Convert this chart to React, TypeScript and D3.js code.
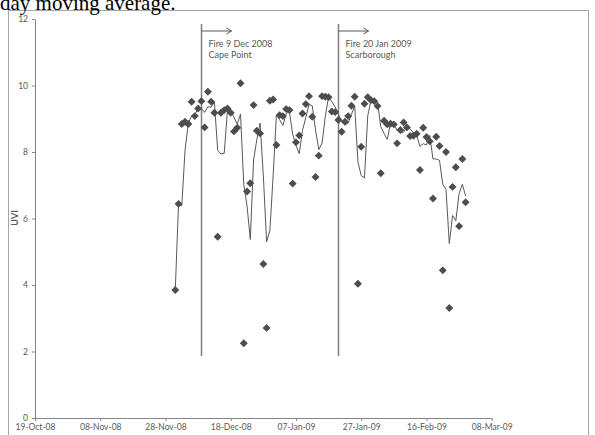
import { useEffect, useRef } from "react";
import * as d3 from "d3";

// daily UVI readings, one per day from 01-Dec-08
const START_DAY = "01-Dec-08";
const UVI = [
  3.85, 6.44, 8.84, 8.91, 8.84, 9.51, 9.08, 9.31, 9.53, 8.74,
  9.81, 9.51, 9.18, 5.45, 9.18, 9.26, 9.31, 9.18, 8.62, 8.73,
  10.07, 2.25, 6.81, 7.06, 9.41, 8.64, 8.56, 4.63, 2.71, 9.54,
  9.58, 8.21, 9.11, 9.08, 9.29, 9.26, 7.05, 8.29, 8.5, 9.16,
  9.44, 9.68, 9.06, 7.25, 7.89, 9.68, 9.66, 9.65, 9.22, 9.2,
  8.96, 8.61, 8.91, 9.08, 9.39, 9.66, 4.04, 8.16, 9.45, 9.65,
  9.56, 9.53, 9.38, 7.36, 8.94, 8.83, 8.85, 8.83, 8.26, 8.66,
  8.89, 8.74, 8.48, 8.49, 8.55, 7.46, 8.73, 8.45, 8.32, 6.6,
  8.46, 8.18, 4.44, 8.0, 3.31, 6.95, 7.54, 5.77, 7.79, 6.49,
];
// 3 day moving average line, same days
const MOVING_AVG = [
  3.85, 6.44, 6.38, 8.06, 8.86, 9.09, 9.14, 9.3, 9.31, 9.19,
  9.36, 9.35, 9.5, 8.05, 7.94, 7.96, 9.25, 9.25, 9.04, 8.84,
  9.14, 7.02, 6.38, 5.37, 7.76, 8.37, 8.87, 7.28, 5.3, 5.63,
  7.28, 9.11, 8.97, 8.8, 9.16, 9.21, 8.53, 8.2, 7.95, 8.65,
  9.03, 9.43, 9.39, 8.66, 8.07, 8.27, 9.08, 9.66, 9.51, 9.36,
  9.13, 8.92, 8.83, 8.87, 9.13, 9.38, 7.7, 7.29, 7.22, 9.09,
  9.55, 9.58, 9.49, 8.76, 8.56, 8.38, 8.87, 8.84, 8.65, 8.58,
  8.6, 8.76, 8.7, 8.57, 8.51, 8.17, 8.25, 8.21, 8.5, 7.79,
  7.79, 7.75, 7.03, 6.87, 5.25, 6.09, 5.93, 6.75, 7.03, 6.68,
];
const X_TICKS = ["19-Oct-08", "08-Nov-08", "28-Nov-08", "18-Dec-08", "07-Jan-09", "27-Jan-09", "16-Feb-09", "08-Mar-09"];
const Y_TICKS = [0, 2, 4, 6, 8, 10, 12];
const FIRE_DAYS = ["09-Dec-08", "20-Jan-09"];
const FIRE_LABELS = [["Fire 9 Dec 2008", "Cape Point"], ["Fire 20 Jan 2009", "Scarborough"]];

const W = 595, H = 435;
const font = "Lato, 'Open Sans', sans-serif";
const grey = "#595959";

const App = () => {
  const ref = useRef<SVGSVGElement>(null);

  useEffect(() => {
    const svg = d3.select(ref.current);
    svg.selectAll("*").remove();

    const parse = d3.utcParse("%d-%b-%y");
    const tickDates = X_TICKS.map((t) => parse(t) as Date);
    const start = parse(START_DAY) as Date;
    const days = UVI.map((_, i) => d3.utcDay.offset(start, i));

    const x = d3.scaleUtc().domain([tickDates[0], tickDates[tickDates.length - 1]]).range([35, 491.7]);
    const y = d3.scaleLinear().domain([0, 12]).range([418, 19]);

    // chart outline
    svg.append("rect")
      .attr("x", 8.5).attr("y", 10.5).attr("width", 580).attr("height", 440)
      .attr("fill", "none").attr("stroke", "#a6a6a6").attr("stroke-width", 1);

    // surrounding document text, cut at the top
    svg.append("text")
      .attr("x", 0).attr("y", 10)
      .attr("font-family", "'Liberation Serif', 'DejaVu Serif', serif")
      .attr("font-size", 21).attr("fill", "#000")
      .text("day moving average.");

    // y axis
    const yAxis = svg.append("g").attr("transform", "translate(35,0)")
      .call(d3.axisLeft(y).tickValues(Y_TICKS).tickSize(3).tickPadding(4).tickSizeOuter(0));
    yAxis.select(".domain").attr("stroke", "#868686");
    yAxis.selectAll(".tick line").attr("stroke", "#868686");
    yAxis.selectAll(".tick text").attr("font-family", font).attr("font-size", 8.5).attr("fill", grey);

    // x axis
    const xAxis = svg.append("g").attr("transform", "translate(0,418)")
      .call(d3.axisBottom(x).tickValues(tickDates).tickSize(3).tickPadding(3).tickSizeOuter(0)
        .tickFormat((d, i) => X_TICKS[i]));
    xAxis.select(".domain").attr("stroke", "#868686");
    xAxis.selectAll(".tick line").attr("stroke", "#868686");
    xAxis.selectAll(".tick text").attr("font-family", font).attr("font-size", 8.5).attr("fill", grey);

    svg.append("text")
      .attr("transform", "translate(18,218) rotate(-90)")
      .attr("text-anchor", "middle")
      .attr("font-family", font).attr("font-size", 9).attr("font-weight", "bold").attr("fill", grey)
      .text("UVI");

    // fire markers
    FIRE_DAYS.forEach((f, i) => {
      const fx = Math.round(x(parse(f) as Date)) + 0.5;
      const g = svg.append("g").attr("stroke", "#7f7f7f").attr("fill", "none");
      g.append("line").attr("x1", fx).attr("x2", fx).attr("y1", 24).attr("y2", 356).attr("stroke-width", 1.5);
      g.append("line").attr("x1", fx).attr("x2", fx + 30).attr("y1", 31).attr("y2", 31).attr("stroke", grey);
      g.append("path").attr("d", `M${fx + 25},28 L${fx + 30},31 L${fx + 25},34`).attr("stroke", grey);
      FIRE_LABELS[i].forEach((t, j) => {
        svg.append("text")
          .attr("x", fx + 7).attr("y", 46.5 + j * 11.5)
          .attr("font-family", font).attr("font-size", 9).attr("fill", grey)
          .text(t);
      });
    });

    // moving average line
    const line = d3.line<number>()
      .x((_, i) => x(days[i]))
      .y((d) => y(d));
    svg.append("path")
      .datum(MOVING_AVG)
      .attr("d", line)
      .attr("fill", "none")
      .attr("stroke", "#595959")
      .attr("stroke-width", 1);

    // daily readings as diamonds
    const diamond = d3.symbol().type(d3.symbolDiamond2).size(40);
    svg.append("g")
      .selectAll("path")
      .data(UVI)
      .join("path")
      .attr("d", diamond)
      .attr("transform", (d, i) => `translate(${x(days[i])},${y(d)})`)
      .attr("fill", "#4d4d4d");
  }, []);

  return (
    <svg
      ref={ref}
      width={W}
      height={H}
      style={{ position: "absolute", left: 0, top: 0, background: "#fff" }}
    />
  );
};

export default App;
